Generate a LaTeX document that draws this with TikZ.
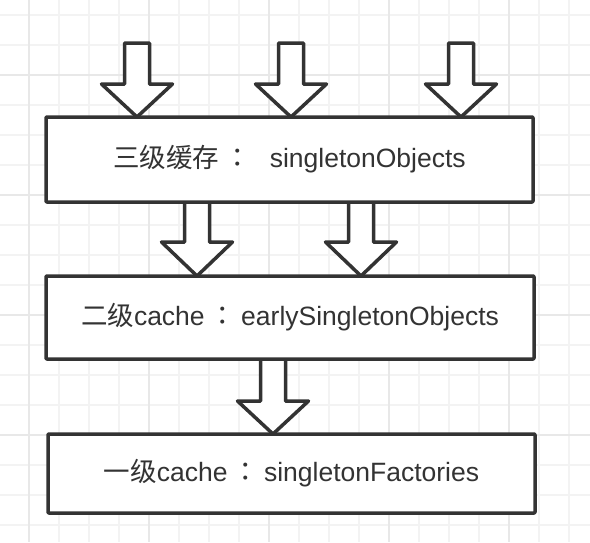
\documentclass[tikz,border=0pt]{standalone}
\usepackage{fontspec}
\setmainfont{Liberation Sans}
\newfontfamily\cjk{Noto Sans CJK SC}
\newfontfamily\cjkc{Noto Sans CJK TC}
\definecolor{ink}{HTML}{333333}
\definecolor{gridminor}{HTML}{F3F3F3}
\definecolor{gridmajor}{HTML}{E8E8E8}
\tikzset{
  cachebox/.style={draw=ink, fill=white, line width=3.5pt, line join=round, rounded corners=0.8pt,
    inner sep=0pt, text=ink, font=\fontsize{26.5}{30}\selectfont},
  blockarrow/.style={draw=ink, fill=white, line width=3.5pt, line join=round},
  minorline/.style={draw=gridminor, line width=1.6pt},
  majorline/.style={draw=gridmajor, line width=2pt}
}
% #1 center x, #2 top y, #3 head y, #4 tip y
\newcommand\blkarrow[4]{%
  \draw[blockarrow] (#1-12.5,#2) -- (#1+12.5,#2) -- (#1+12.5,#3) -- (#1+35.5,#3)
    -- (#1,#4) -- (#1-35.5,#3) -- (#1-12.5,#3) -- cycle;}
\newcommand\fwcolon{{\cjkc ：}}
\begin{document}
\begin{tikzpicture}[x=1pt,y=-1pt]
\useasboundingbox[fill=white] (0,0) rectangle (590,542);
% grid
\foreach \gx in {-1,29,...,589} \draw[minorline] (\gx,0) -- (\gx,542);
\foreach \gy in {15,45,...,541} \draw[minorline] (0,\gy) -- (590,\gy);
\foreach \gx in {29,149,...,589} \draw[majorline] (\gx,0) -- (\gx,542);
\foreach \gy in {75,195,...,541} \draw[majorline] (0,\gy) -- (590,\gy);
% arrows
\blkarrow{137}{43}{84}{117}
\blkarrow{291}{43}{84}{117}
\blkarrow{461}{43}{84}{117}
\blkarrow{197}{202}{242}{276}
\blkarrow{361}{202}{242}{276}
\blkarrow{273}{359}{401}{434}
% boxes
\node[cachebox, minimum width=487pt, minimum height=85pt] (l3) at (289.5,159.5)
  {\raisebox{-1pt}{{\cjk 三级缓存}\hspace{5pt}\fwcolon\hspace{19pt}singletonObjects}};
\node[cachebox, minimum width=488pt, minimum height=83pt] (l2) at (290,317.5)
  {\raisebox{-1pt}{{\cjk 二级}cache\hspace{5pt}\fwcolon\hspace{5pt}earlySingletonObjects}};
\node[cachebox, minimum width=487pt, minimum height=79pt] (l1) at (291.5,473.5)
  {\raisebox{-1pt}{{\cjk 一级}cache\hspace{5pt}\fwcolon\hspace{5pt}singletonFactories}};
\end{tikzpicture}
\end{document}
